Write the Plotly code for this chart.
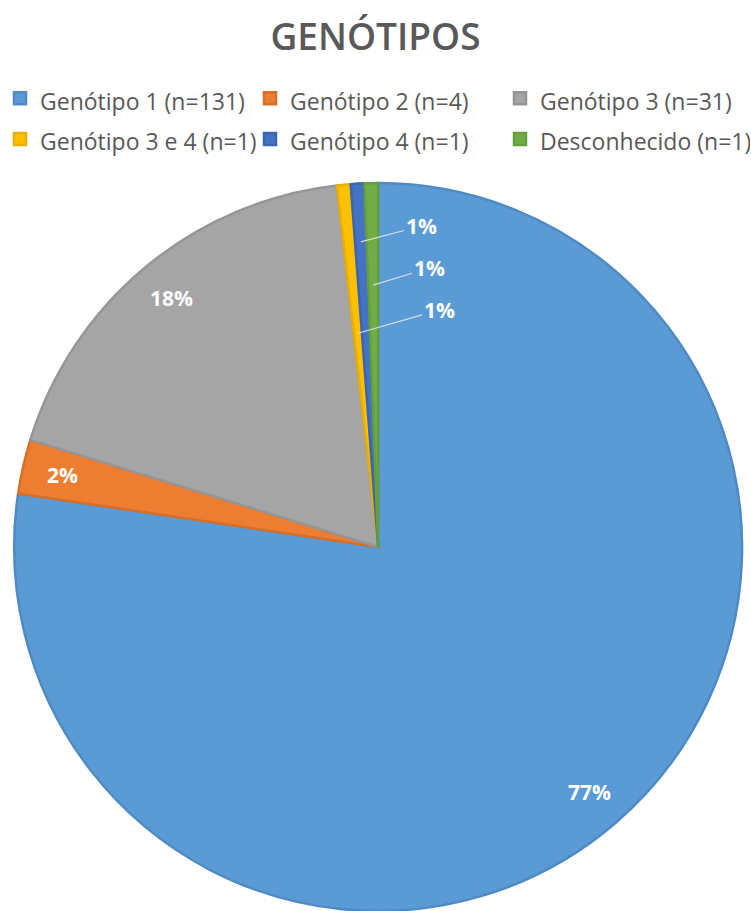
import math
import plotly.graph_objects as go

# Genotype distribution (percent of patients)
categories = [
    "Genótipo 1 (n=131)",
    "Genótipo 2 (n=4)",
    "Genótipo 3 (n=31)",
    "Genótipo 3 e 4 (n=1)",
    "Genótipo 4 (n=1)",
    "Desconhecido (n=1)",
]
shares = [77.2, 2.4, 18.4, 0.6, 0.6, 0.6]

colors = ["#5B9BD5", "#ED7D31", "#A5A5A5", "#FFC000", "#4472C4", "#70AD47"]
edge_colors = ["#4F8BC3", "#D86F28", "#969696", "#E8AE00", "#3C65B0", "#63A03D"]

W, H = 751, 911
DOM_X = [0.007, 1.0]
DOM_Y = [0.0, 0.799]

TEXT_GREY = "#595959"
FONT = "Open Sans"

total = sum(shares)
pct_text = [f"{round(v / total * 100)}%" for v in shares]

fig = go.Figure(
    go.Pie(
        labels=[f'<span style="font-size:23px">{c}</span>' for c in categories],
        values=shares,
        sort=False,
        direction="clockwise",
        rotation=0,
        marker=dict(colors=colors, line=dict(color=edge_colors, width=2.5)),
        textinfo="none",
        hovertemplate="%{label}<br>%{percent}<extra></extra>",
        domain=dict(x=DOM_X, y=DOM_Y),
    )
)

# pie geometry in pixels (same rule plotly uses: radius = half the smaller domain side)
cx = W * (DOM_X[0] + DOM_X[1]) / 2
cy = H * (1 - (DOM_Y[0] + DOM_Y[1]) / 2)
R = min(W * (DOM_X[1] - DOM_X[0]), H * (DOM_Y[1] - DOM_Y[0])) / 2


def polar(theta_deg, r):
    t = math.radians(theta_deg)
    return cx + r * math.sin(t), cy - r * math.cos(t)


mids = []
cum = 0.0
for v in shares:
    mids.append((cum + v / 2) / total * 360)
    cum += v

annotations = []
label_font = dict(family=FONT, size=21, color="white", weight="bold")

# labels inside the three larger slices
for i in range(3):
    px, py = polar(mids[i], 0.89 * R)
    annotations.append(dict(
        x=px / W, y=1 - py / H, xref="paper", yref="paper",
        xanchor="center", yanchor="middle",
        text=pct_text[i], showarrow=False, font=label_font,
    ))

# thin slices at the top: labels pulled into the big slice with leader lines
# (slice index, leader radius fraction, label position relative to the pie centre)
leaders = [
    (4, 0.84, (43, -321)),
    (5, 0.72, (51, -279)),
    (3, 0.59, (61, -237)),
]
for i, rf, (lx, ly) in leaders:
    tx, ty = polar(mids[i], rf * R)
    annotations.append(dict(
        x=tx / W, y=1 - ty / H, xref="paper", yref="paper",
        text=pct_text[i], font=label_font,
        showarrow=True, arrowhead=0, arrowwidth=1.2,
        arrowcolor="rgba(225,230,235,0.9)",
        ax=(cx + lx) - tx, ay=(cy + ly) - ty,
    ))

fig.update_layout(
    width=W,
    height=H,
    margin=dict(l=0, r=0, t=0, b=0),
    paper_bgcolor="white",
    plot_bgcolor="white",
    title=dict(
        text="GENÓTIPOS",
        x=0.5, xanchor="center",
        y=1 - 37 / H, yanchor="middle",
        font=dict(family=FONT, size=37, color=TEXT_GREY, weight=600),
    ),
    legend=dict(
        orientation="h",
        x=0.0, xanchor="left",
        y=1 - 73 / H, yanchor="top",
        entrywidth=205,
        font=dict(family=FONT, size=29, color=TEXT_GREY),
        traceorder="normal",
        itemclick=False,
        bgcolor="rgba(0,0,0,0)",
    ),
    annotations=annotations,
)

fig.write_html("out.html")
